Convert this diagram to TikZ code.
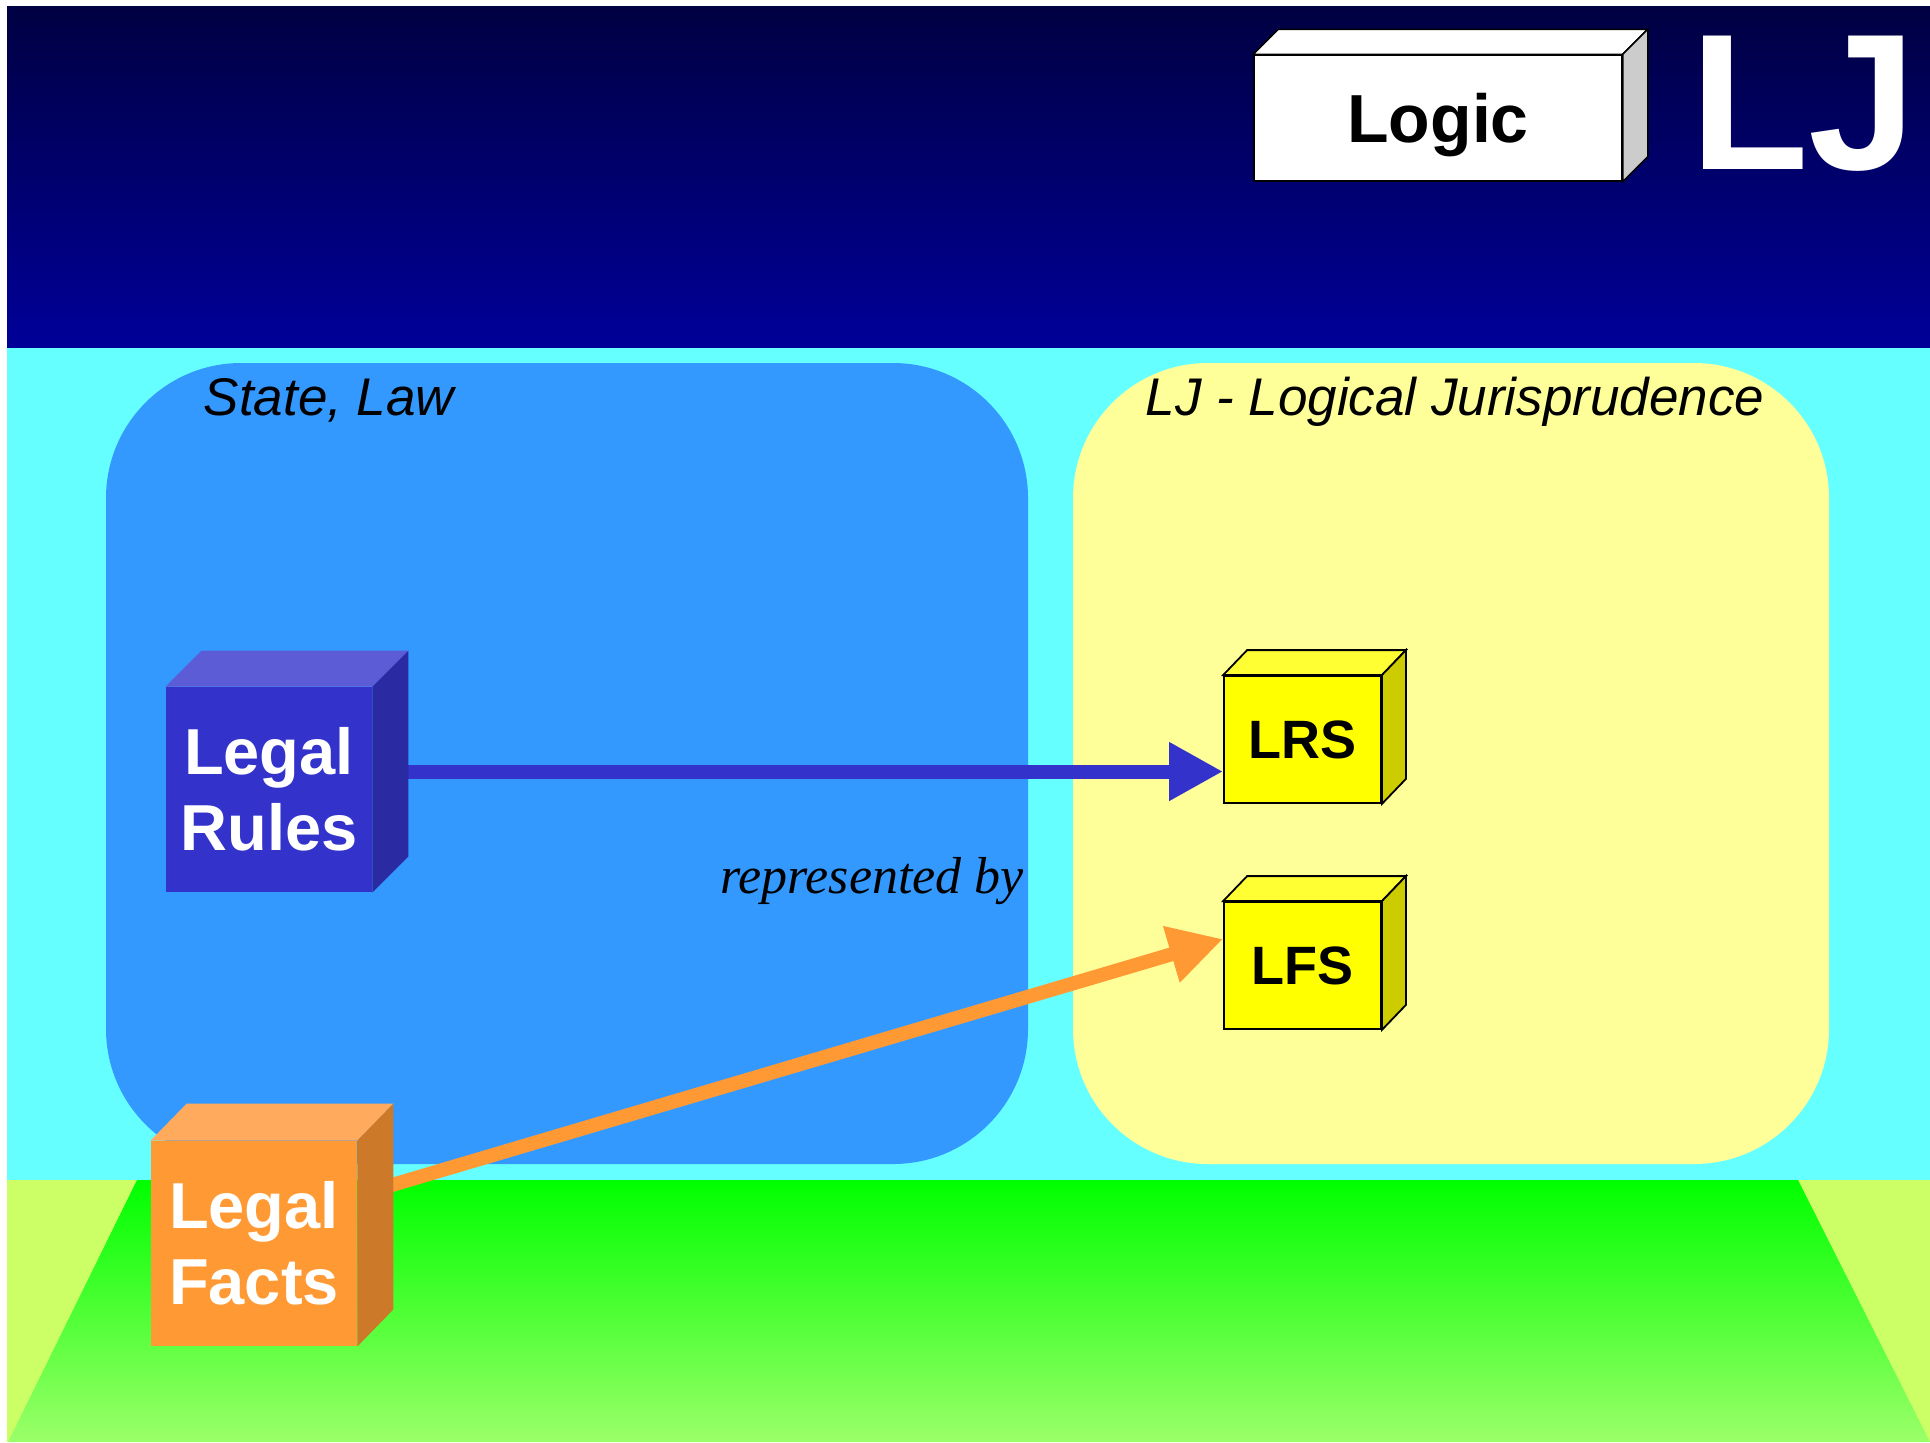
\documentclass[tikz,border=0pt]{standalone}
\usepackage{fontspec}
\setmainfont{Liberation Sans}
\newfontfamily\reprfont{Liberation Serif}
\usepackage{xcolor}
\usepackage{tikz}
\usetikzlibrary{calc,arrows.meta,positioning}

\definecolor{navytop}{RGB}{0,0,66}
\definecolor{navybot}{RGB}{0,0,153}
\definecolor{skycyan}{RGB}{102,255,255}
\definecolor{lawn}{RGB}{204,255,102}
\definecolor{greentop}{RGB}{0,255,0}
\definecolor{greenbot}{RGB}{155,255,105}
\definecolor{lawblue}{RGB}{51,153,255}
\definecolor{ljyellow}{RGB}{255,255,153}
\definecolor{rulesfront}{RGB}{51,51,204}
\definecolor{rulestop}{RGB}{92,92,214}
\definecolor{rulesside}{RGB}{42,42,163}
\definecolor{factsfront}{RGB}{255,153,51}
\definecolor{factstop}{RGB}{255,170,92}
\definecolor{factsside}{RGB}{204,122,41}
\definecolor{lsfront}{RGB}{255,255,0}
\definecolor{lstop}{RGB}{255,255,51}
\definecolor{lsside}{RGB}{204,204,0}

\begin{document}
\begin{tikzpicture}[x=0.5pt,y=0.5pt,yscale=-1,
  bigcube/.style={inner sep=0pt, minimum width=103pt, minimum height=102.5pt, align=center, text=white,
    font=\fontsize{32.5}{38}\selectfont\bfseries},
  smallcube/.style={inner sep=0pt, minimum width=78.5pt, minimum height=63.5pt, fill=lsfront, draw=black,
    line width=0.9pt, font=\fontsize{27}{30}\selectfont\bfseries},
  title/.style={inner sep=0pt, anchor=base, font=\fontsize{26.5}{30}\selectfont\itshape},
  link/.style={line width=7pt, -{Triangle[length=27pt,width=27.5pt]}}]
  \useasboundingbox (0,0) rectangle (1930,1442);
  \fill [white] (0,0) rectangle (1930,1442);

  %Shape: Rectangle [header]
  \shade [top color=navytop, bottom color=navybot] (7,6) rectangle (1930,348);
  %Shape: Rectangle [sky]
  \fill [skycyan] (7,348) rectangle (1930,1180);
  %Shape: Rectangle [ground]
  \fill [lawn] (7,1180) rectangle (1930,1442);
  %Shape: Trapezoid [road]
  \shade [top color=greentop, bottom color=greenbot] (137,1180) -- (1798,1180) -- (1930,1442) -- (8,1442) -- cycle;

  %Shape: Rounded Rectangle [State, Law]
  \fill [lawblue, rounded corners=67.5pt] (106,363) rectangle (1028,1164);
  %Shape: Rounded Rectangle [LJ]
  \fill [ljyellow, rounded corners=67.5pt] (1073,363) rectangle (1829,1164);

  % Text Node
  \node (law) [title] at (329,415) {State, Law};
  % Text Node
  \node (lj) [title] at (1455,415) {LJ - Logical Jurisprudence};
  % Text Node
  \begin{scope}
    \clip (106,363) rectangle (1028,1164);
    \node (repr) [inner sep=0pt, anchor=base] at (872,893) {\reprfont\itshape\fontsize{26}{30}\selectfont represented by};
  \end{scope}

  %Shape: Box [Logic]
  \node (logic) [inner sep=0pt, minimum width=184pt, minimum height=63pt, fill=white, draw=black, line width=0.75pt,
    text depth=0pt, font=\fontsize{34}{40}\selectfont\bfseries] at (1438,118) {Logic};
  \filldraw [fill=white, draw=black, line width=0.75pt] (logic.north west) -- ++(25,-25) -- ($(logic.north east)+(25,-25)$) -- (logic.north east) -- cycle;
  \filldraw [fill=black!20, draw=black, line width=0.75pt] (logic.north east) -- ++(25,-25) -- ($(logic.south east)+(25,-25)$) -- (logic.south east) -- cycle;
  % Text Node
  \node (ljmark) [inner sep=0pt, anchor=base west, text=white, font=\fontsize{97}{110}\selectfont\bfseries] at (1690,169) {LJ};

  %Shape: Box [LRS]
  \node (lrs) [smallcube] at (1302.5,739.5) {LRS};
  \filldraw [fill=lstop, draw=black, line width=0.9pt] (lrs.north west) -- ++(24,-25) -- ($(lrs.north east)+(24,-25)$) -- (lrs.north east) -- cycle;
  \filldraw [fill=lsside, draw=black, line width=0.9pt] (lrs.north east) -- ++(24,-25) -- ($(lrs.south east)+(24,-25)$) -- (lrs.south east) -- cycle;
  %Shape: Box [LFS]
  \node (lfs) [smallcube] at (1302.5,965.5) {LFS};
  \filldraw [fill=lstop, draw=black, line width=0.9pt] (lfs.north west) -- ++(24,-25) -- ($(lfs.north east)+(24,-25)$) -- (lfs.north east) -- cycle;
  \filldraw [fill=lsside, draw=black, line width=0.9pt] (lfs.north east) -- ++(24,-25) -- ($(lfs.south east)+(24,-25)$) -- (lfs.south east) -- cycle;

  %Straight Lines [arrows]
  \coordinate (rulesout) at (400,771.5);
  \coordinate (factsout) at (385,1187);
  \coordinate (lfsin) at ($(lfs.west)+(0,-26.5)$);
  \draw [link, rulesfront] (rulesout) -- (rulesout -| lrs.west);
  \draw [link, factsfront] (factsout) -- (lfsin);

  %Shape: Cube [Legal Rules]
  \node (rules) [bigcube, fill=rulesfront] at (269,789.5) {Legal\\Rules};
  \fill [rulestop] (rules.north west) -- ++(36,-36) -- ($(rules.north east)+(36,-36)$) -- (rules.north east) -- cycle;
  \fill [rulesside] (rules.north east) -- ++(36,-36) -- ($(rules.south east)+(36,-36)$) -- (rules.south east) -- cycle;
  %Shape: Cube [Legal Facts]
  \node (facts) [bigcube, fill=factsfront] at (254,1243.5) {Legal\\Facts};
  \fill [factstop] (facts.north west) -- ++(36,-37) -- ($(facts.north east)+(36,-37)$) -- (facts.north east) -- cycle;
  \fill [factsside] (facts.north east) -- ++(36,-37) -- ($(facts.south east)+(36,-37)$) -- (facts.south east) -- cycle;
\end{tikzpicture}
\end{document}
